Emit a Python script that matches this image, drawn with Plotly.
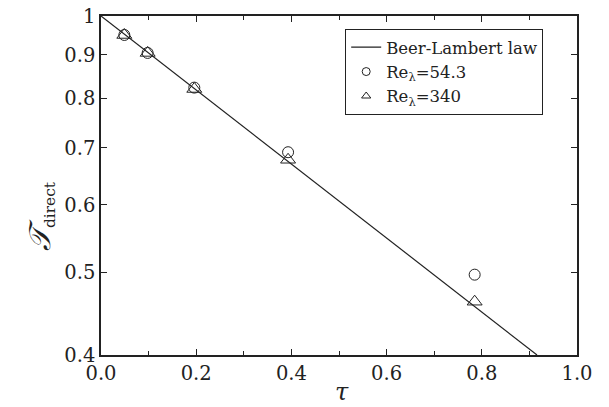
import plotly.graph_objects as go

# Beer-Lambert reference line endpoints
line_tau = [0.0, 0.916]
line_T = [1.0, 0.4]

# Optical depth values
tau = [0.049, 0.098, 0.196, 0.393, 0.785]
T_re54 = [0.950, 0.905, 0.824, 0.692, 0.497]
T_re340 = [0.950, 0.905, 0.821, 0.678, 0.462]

y_ticks = [0.4, 0.5, 0.6, 0.7, 0.8, 0.9, 1.0]
y_ticktext = ["0.4", "0.5", "0.6", "0.7", "0.8", "0.9", "1"]

FONT = "DejaVu Serif"

fig = go.Figure()
fig.add_trace(go.Scatter(x=line_tau, y=line_T, mode="lines",
                         line=dict(color="#222", width=1.2),
                         name="Beer-Lambert law"))
fig.add_trace(go.Scatter(x=tau, y=T_re54, mode="markers", showlegend=False,
                         marker=dict(symbol="circle-open", size=11,
                                     color="#222", line=dict(width=1))))
fig.add_trace(go.Scatter(x=tau, y=T_re340, mode="markers", showlegend=False,
                         marker=dict(symbol="triangle-up-open", size=13,
                                     color="#222", line=dict(width=1))))
# legend entries
fig.add_trace(go.Scatter(x=[None], y=[None], mode="markers",
                         name="Re<sub>λ</sub>=54.3",
                         marker=dict(symbol="circle-open", size=8,
                                     color="#222", line=dict(width=1))))
fig.add_trace(go.Scatter(x=[None], y=[None], mode="markers",
                         name="Re<sub>λ</sub>=340",
                         marker=dict(symbol="triangle-up-open", size=8,
                                     color="#222", line=dict(width=1))))

fig.update_layout(
    width=609, height=407,
    margin=dict(l=101, r=32, t=16, b=52),
    plot_bgcolor="white", paper_bgcolor="white",
    font=dict(family=FONT, color="#222", size=19),
    showlegend=True,
    legend=dict(x=0.513, y=0.962, xanchor="left", yanchor="top",
                bordercolor="#222", borderwidth=1, bgcolor="white",
                font=dict(size=16.5, family=FONT), tracegroupgap=0,
                itemwidth=30),
    xaxis=dict(range=[0, 1.0], dtick=0.2, tick0=0, tickformat=".1f",
               showline=True, linecolor="#222", linewidth=1.5,
               mirror="allticks", ticks="inside", ticklen=6,
               tickcolor="#222", showgrid=False, zeroline=False,
               automargin=False,
               minor=dict(dtick=0.1, ticks="inside", ticklen=4,
                          tickcolor="#222", showgrid=False),
               tickfont=dict(size=19.5, family=FONT)),
    yaxis=dict(type="log", range=[-0.39794, 0],
               tickvals=y_ticks, ticktext=y_ticktext,
               showline=True, linecolor="#222", linewidth=1.5,
               mirror="allticks", ticks="inside", ticklen=6,
               tickcolor="#222", showgrid=False, zeroline=False,
               automargin=False,
               tickfont=dict(size=19.5, family=FONT)),
    annotations=[
        dict(text="<i>τ</i>", xref="paper", yref="paper", x=0.506, y=-0.156,
             xanchor="center", yanchor="bottom", showarrow=False,
             font=dict(size=24, family=FONT)),
        dict(text="<span style='font-size:30px'><i>𝒯</i></span><sub>direct</sub>",
             xref="paper", yref="paper",
             x=-0.128, y=0.41, xanchor="center", yanchor="middle",
             textangle=-90, showarrow=False,
             font=dict(size=22, family=FONT)),
    ],
)

fig.write_html("out.html", config={"displayModeBar": False},
               post_script="document.body.style.margin='0';")
